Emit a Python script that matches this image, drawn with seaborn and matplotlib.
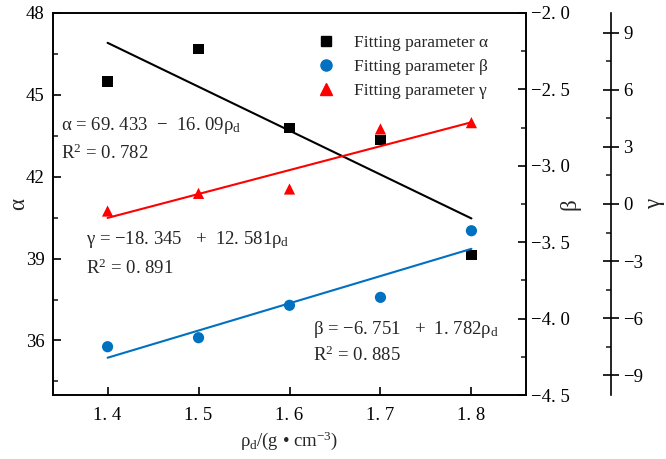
import numpy as np
import pandas as pd
import matplotlib
matplotlib.use("Agg")
import matplotlib.pyplot as plt
import seaborn as sns
from matplotlib.ticker import AutoMinorLocator
from matplotlib.lines import Line2D

# ---- data ----
rho_d = [1.4, 1.5, 1.6, 1.7, 1.8]
alpha_vals = [45.49, 46.67, 43.78, 43.34, 39.12]
beta_vals = [-4.184, -4.125, -3.913, -3.861, -3.425]
gamma_vals = [-0.37, 0.56, 0.79, 3.95, 4.28]
# fitted equation coefficients (intercept, slope) as printed on the chart
alpha_fit = [69.433, -16.09]
beta_fit = [-6.751, 1.782]
gamma_fit = [-18.345, 12.581]
x_ticks = [1.4, 1.5, 1.6, 1.7, 1.8]
x_ticklabels = ["1. 4", "1. 5", "1. 6", "1. 7", "1. 8"]
alpha_ticks = [36, 39, 42, 45, 48]
beta_ticks = [-4.5, -4.0, -3.5, -3.0, -2.5, -2.0]
beta_ticklabels = ["−4. 5", "−4. 0", "−3. 5", "−3. 0", "−2. 5", "−2. 0"]
gamma_ticks = [-9, -6, -3, 0, 3, 6, 9]
gamma_ticklabels = ["−9", "−6", "−3", "0", "3", "6", "9"]
legend_labels = ["Fitting parameter α", "Fitting parameter β", "Fitting parameter γ"]

sns.set_theme(style="ticks")
plt.rcParams['font.family'] = ['Liberation Serif', 'DejaVu Serif']
plt.rcParams['mathtext.fontset'] = 'custom'
plt.rcParams['mathtext.rm'] = 'Liberation Serif'
plt.rcParams['mathtext.it'] = 'Liberation Serif:italic'

df = pd.DataFrame({"rho": rho_d, "alpha": alpha_vals, "beta": beta_vals, "gamma": gamma_vals})
xs = np.array([rho_d[0], rho_d[-1]])
fit_df = pd.DataFrame({
    "rho": xs,
    "alpha": alpha_fit[0] + alpha_fit[1] * xs,
    "beta": beta_fit[0] + beta_fit[1] * xs,
    "gamma": gamma_fit[0] + gamma_fit[1] * xs,
})

BLACK, BLUE, RED = "#000000", "#0070C0", "#FF0000"

fig = plt.figure(figsize=(6.66, 4.59), dpi=100)
ax1 = fig.add_axes([53/666, 1-395/459, 473/666, 382/459])
ax2 = ax1.twinx()
ax3 = ax1.twinx()
ax3.spines['right'].set_position(('axes', (611-53)/473))

sns.lineplot(data=fit_df, x="rho", y="alpha", ax=ax1, color=BLACK, lw=1.5)
sns.lineplot(data=fit_df, x="rho", y="beta", ax=ax2, color=BLUE, lw=1.5)
sns.lineplot(data=fit_df, x="rho", y="gamma", ax=ax3, color=RED, lw=1.5)
sns.scatterplot(data=df, x="rho", y="alpha", ax=ax1, color=BLACK, marker="s", s=55, edgecolor="none", zorder=3)
sns.scatterplot(data=df, x="rho", y="beta", ax=ax2, color=BLUE, marker="o", s=65, edgecolor="none", zorder=3)
sns.scatterplot(data=df, x="rho", y="gamma", ax=ax3, color=RED, marker="^", s=65, edgecolor="none", zorder=3)

ax1.set_xlim(1.34, 1.86)
ax1.set_ylim(34.0, 48.0)
ax2.set_ylim(-4.5, -2.0)
ax3.set_ylim(-10.05, 10.05)

ax1.set_xticks(x_ticks)
ax1.set_xticklabels(x_ticklabels)
ax1.set_yticks(alpha_ticks)
ax2.set_yticks(beta_ticks)
ax2.set_yticklabels(beta_ticklabels)
ax3.set_yticks(gamma_ticks)
ax3.set_yticklabels(gamma_ticklabels)
for ax in (ax1, ax2, ax3):
    ax.yaxis.set_minor_locator(AutoMinorLocator(2))

fs = 13.5
for ax in (ax1, ax2, ax3):
    for sp in ax.spines.values():
        sp.set_linewidth(1.2)
        sp.set_color("black")
    ax.tick_params(which="major", direction="in", length=6, width=1.2, labelsize=fs, colors="black")
    ax.tick_params(which="minor", direction="in", length=3.5, width=1.2)
ax3.spines['top'].set_visible(False)
ax3.spines['left'].set_visible(False)
ax3.spines['bottom'].set_visible(False)
ax3.tick_params(which="major", direction="inout", length=11)
ax1.tick_params(axis="x", pad=9)
ax1.tick_params(axis="y", pad=6)

ax1.set_xlabel("ρ$_\\mathregular{d}$/(g • cm$^\\mathregular{-3}$)", fontsize=fs)
ax1.xaxis.set_label_coords((289-53)/473, -(429-395)/382)
ax1.set_ylabel("α", fontsize=fs+3)
ax1.yaxis.set_label_coords((29-53)/473, 0.5)
ax2.set_ylabel("β", fontsize=fs+3)
ax2.yaxis.set_label_coords((559-53)/473, 0.5)
ax3.set_ylabel("γ", fontsize=fs+3)
ax3.yaxis.set_label_coords((644-53)/473, 0.5)

# equations
efs = 13.5
def put(xp, yp, s):
    ax1.text((xp-53)/473, (395-yp)/382, s, transform=ax1.transAxes, fontsize=efs, va="center", ha="left")
put(61, 126, "α = 69. 433  −  16. 09ρ$_\\mathregular{d}$")
put(61, 153, "R$^\\mathregular{2}$ = 0. 782")
put(86, 240, "γ = −18. 345   +  12. 581ρ$_\\mathregular{d}$")
put(86, 268, "R$^\\mathregular{2}$ = 0. 891")
put(313, 329, "β = −6. 751   +  1. 782ρ$_\\mathregular{d}$")
put(313, 355, "R$^\\mathregular{2}$ = 0. 885")

handles = [
    Line2D([], [], ls="none", marker="s", color=BLACK, markersize=7),
    Line2D([], [], ls="none", marker="o", color=BLUE, markersize=8),
    Line2D([], [], ls="none", marker="^", color=RED, markersize=8),
]
for ax in (ax1, ax2, ax3):
    lg = ax.get_legend()
    if lg:
        lg.remove()
ax3.legend(handles, legend_labels, loc="upper left", bbox_to_anchor=((309-53)/473, (395-35)/382),
           frameon=False, fontsize=12.5, handletextpad=0.6, labelspacing=0.45,
           borderaxespad=0.0, borderpad=0.0)

fig.savefig("out.png", dpi=100)
